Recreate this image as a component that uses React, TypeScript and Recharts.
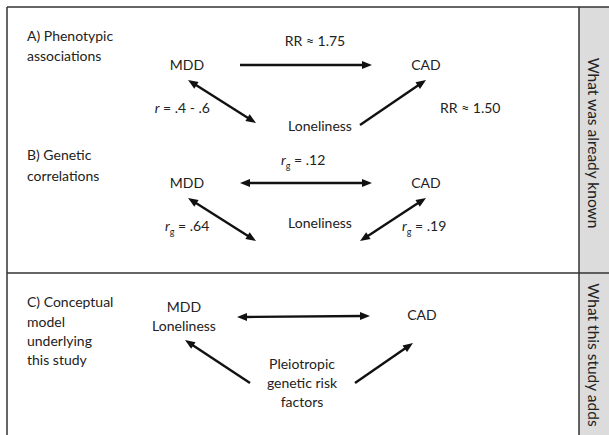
import React from "react";
import { ScatterChart, Scatter, XAxis, YAxis, ReferenceLine, ReferenceArea } from "recharts";

const W = 609;
const H = 435;
const FONT = "Lato, 'Open Sans', sans-serif";

// node / caption positions in the figure's own units (page pixels)
const labels = [
  { x: 27, y: 41, text: "A) Phenotypic", anchor: "start" },
  { x: 27, y: 61, text: "associations", anchor: "start" },
  { x: 187, y: 70, text: "MDD", anchor: "middle" },
  { x: 426, y: 70, text: "CAD", anchor: "middle" },
  { x: 320, y: 131, text: "Loneliness", anchor: "middle" },
  { x: 315, y: 46, text: "RR ≈ 1.75", anchor: "middle" },
  { x: 440, y: 113, text: "RR ≈ 1.50", anchor: "start" },
  { x: 27, y: 160, text: "B) Genetic", anchor: "start" },
  { x: 27, y: 181, text: "correlations", anchor: "start" },
  { x: 187, y: 188, text: "MDD", anchor: "middle" },
  { x: 426, y: 188, text: "CAD", anchor: "middle" },
  { x: 320, y: 228, text: "Loneliness", anchor: "middle" },
  { x: 27, y: 307, text: "C) Conceptual", anchor: "start" },
  { x: 27, y: 327, text: "model", anchor: "start" },
  { x: 27, y: 346, text: "underlying", anchor: "start" },
  { x: 27, y: 365, text: "this study", anchor: "start" },
  { x: 184, y: 312, text: "MDD", anchor: "middle" },
  { x: 184, y: 331, text: "Loneliness", anchor: "middle" },
  { x: 422, y: 320, text: "CAD", anchor: "middle" },
  { x: 302, y: 369, text: "Pleiotropic", anchor: "middle" },
  { x: 302, y: 388, text: "genetic risk", anchor: "middle" },
  { x: 302, y: 407, text: "factors", anchor: "middle" },
];

// italic r labels: prefix r, optional subscript g, rest
const stats = [
  { x: 210, y: 113, sub: "", rest: " = .4 - .6", anchor: "end" },
  { x: 281, y: 165, sub: "g", rest: " = .12", anchor: "start" },
  { x: 165, y: 231, sub: "g", rest: " = .64", anchor: "start" },
  { x: 402, y: 231, sub: "g", rest: " = .19", anchor: "start" },
];

const arrows = [
  { x1: 240, y1: 65, x2: 372, y2: 65, both: false },
  { x1: 188, y1: 80, x2: 256, y2: 123, both: true },
  { x1: 360, y1: 125, x2: 426, y2: 80, both: false },
  { x1: 240, y1: 183, x2: 372, y2: 183, both: true },
  { x1: 188, y1: 198, x2: 256, y2: 241, both: true },
  { x1: 426, y1: 198, x2: 360, y2: 241, both: true },
  { x1: 237, y1: 317, x2: 370, y2: 316, both: true },
  { x1: 250, y1: 383, x2: 185, y2: 340, both: false },
  { x1: 355, y1: 383, x2: 413, y2: 343, both: false },
];

const frame = [
  { x1: 7, y1: 7, x2: 609, y2: 7 },
  { x1: 7, y1: 7, x2: 7, y2: 435 },
  { x1: 579, y1: 7, x2: 579, y2: 435 },
  { x1: 7, y1: 273, x2: 609, y2: 273 },
];

const sideTitles = [
  { x: 594, y: 143, text: "What was already known" },
  { x: 594, y: 355, text: "What this study adds" },
];

const head = (x: number, y: number, dx: number, dy: number) => {
  const len = Math.hypot(dx, dy);
  const ux = dx / len, uy = dy / len;
  const L = 10, w = 4;
  const bx = x - ux * L, by = y - uy * L;
  return `${x},${y} ${bx - uy * w},${by + ux * w} ${bx + uy * w},${by - ux * w}`;
};

const ArrowShape = (both: boolean) => (p: any) => {
  const { x1, y1, x2, y2 } = p;
  const dx = x2 - x1, dy = y2 - y1;
  const len = Math.hypot(dx, dy);
  const ux = dx / len, uy = dy / len;
  return (
    <g>
      <line
        x1={both ? x1 + ux * 8 : x1}
        y1={both ? y1 + uy * 8 : y1}
        x2={x2 - ux * 8}
        y2={y2 - uy * 8}
        stroke="#111"
        strokeWidth={2.4}
      />
      <polygon points={head(x2, y2, dx, dy)} fill="#111" />
      {both && <polygon points={head(x1, y1, -dx, -dy)} fill="#111" />}
    </g>
  );
};

const LabelShape = (p: any) => (
  <text x={p.cx} y={p.cy} textAnchor={p.payload.anchor} fontSize={14} fontFamily={FONT} fill="#222">
    {p.payload.text}
  </text>
);

const StatShape = (p: any) => (
  <text x={p.cx} y={p.cy} textAnchor={p.payload.anchor} fontSize={14} fontFamily={FONT} fill="#222">
    <tspan fontStyle="italic">r</tspan>
    {p.payload.sub && (
      <tspan fontSize={9} dy={4}>
        {p.payload.sub}
      </tspan>
    )}
    <tspan dy={p.payload.sub ? -4 : 0}>{p.payload.rest}</tspan>
  </text>
);

const SideShape = (p: any) => (
  <text
    x={p.cx}
    y={p.cy}
    transform={`rotate(90 ${p.cx} ${p.cy})`}
    textAnchor="middle"
    dominantBaseline="central"
    fontSize={15.5}
    fontFamily={FONT}
    fill="#222"
  >
    {p.payload.text}
  </text>
);

export default function App() {
  return (
    <div style={{ position: "absolute", left: 0, top: 0, width: W, height: H, background: "#fff" }}>
      <ScatterChart width={W} height={H} margin={{ top: 0, right: 0, bottom: 0, left: 0 }}>
        <XAxis type="number" dataKey="x" domain={[0, W]} hide allowDataOverflow />
        <YAxis type="number" dataKey="y" domain={[0, H]} reversed hide allowDataOverflow />
        <ReferenceArea x1={579} x2={W} y1={7} y2={H} fill="#dcdcdc" fillOpacity={1} stroke="none" />
        {frame.map((f, i) => (
          <ReferenceLine
            key={"f" + i}
            segment={[{ x: f.x1, y: f.y1 }, { x: f.x2, y: f.y2 }]}
            stroke="#333"
            strokeWidth={1.5}
          />
        ))}
        {arrows.map((a, i) => (
          <ReferenceLine
            key={"a" + i}
            segment={[{ x: a.x1, y: a.y1 }, { x: a.x2, y: a.y2 }]}
            shape={ArrowShape(a.both)}
          />
        ))}
        <Scatter data={labels} shape={LabelShape} isAnimationActive={false} />
        <Scatter data={stats} shape={StatShape} isAnimationActive={false} />
        <Scatter data={sideTitles} shape={SideShape} isAnimationActive={false} />
      </ScatterChart>
    </div>
  );
}
